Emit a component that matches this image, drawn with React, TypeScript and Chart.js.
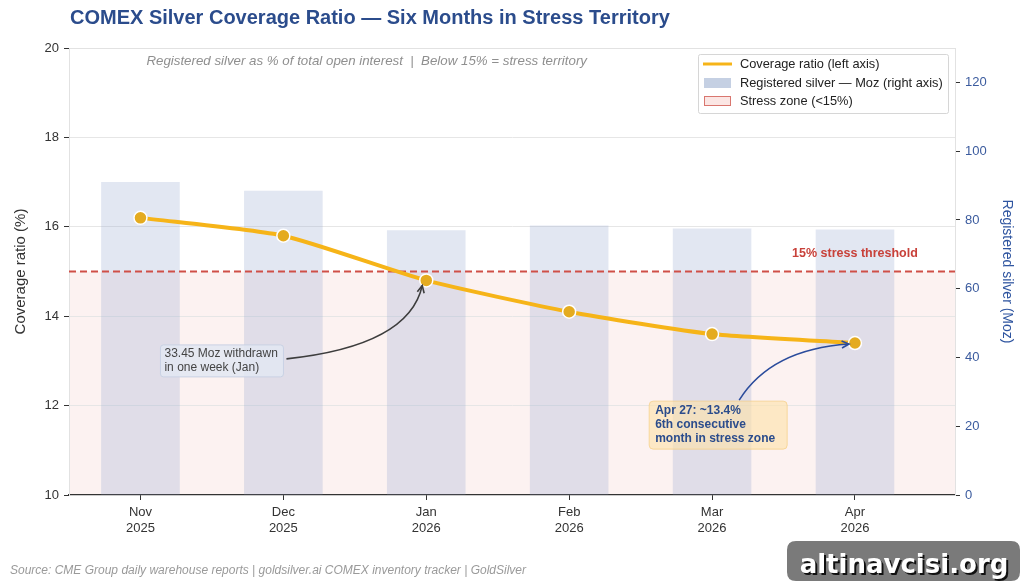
import { useEffect, useRef } from "react";
import { Chart, registerables } from "chart.js";

Chart.register(...registerables);

// Monthly observations
const months = ["Nov", "Dec", "Jan", "Feb", "Mar", "Apr"];
const years = ["2025", "2025", "2026", "2026", "2026", "2026"];
const coverageRatio = [16.2, 15.8, 14.8, 14.1, 13.6, 13.4];
const registeredMoz = [91.0, 88.5, 77.0, 78.4, 77.5, 77.2];

// Axis ticks
const leftTicks = [10, 12, 14, 16, 18, 20];
const rightTicks = [0, 20, 40, 60, 80, 100, 120];
const stressThreshold = 15;

// Text content
const titleText = "COMEX Silver Coverage Ratio — Six Months in Stress Territory";
const subtitleText =
  "Registered silver as % of total open interest  |  Below 15% = stress territory";
const sourceText =
  "Source: CME Group daily warehouse reports | goldsilver.ai COMEX inventory tracker | GoldSilver";
const withdrawalNote = ["33.45 Moz withdrawn", "in one week (Jan)"];
const stressNote = ["Apr 27: ~13.4%", "6th consecutive", "month in stress zone"];
const legendLabels = [
  "Coverage ratio (left axis)",
  "Registered silver — Moz (right axis)",
  "Stress zone (<15%)",
];

const FONT = "'Liberation Sans', Arial, sans-serif";
const BLUE = "#2b4c8c";
const GOLD = "#f6b418";
const RED = "#cf4f47";

function drawArrow(
  ctx: CanvasRenderingContext2D,
  x0: number,
  y0: number,
  cx: number,
  cy: number,
  x1: number,
  y1: number,
  color: string
) {
  ctx.save();
  ctx.strokeStyle = color;
  ctx.lineWidth = 1.6;
  ctx.beginPath();
  ctx.moveTo(x0, y0);
  ctx.quadraticCurveTo(cx, cy, x1, y1);
  ctx.stroke();
  const ang = Math.atan2(y1 - cy, x1 - cx);
  const L = 8;
  const a = 0.45;
  ctx.beginPath();
  ctx.moveTo(x1 - L * Math.cos(ang - a), y1 - L * Math.sin(ang - a));
  ctx.lineTo(x1, y1);
  ctx.lineTo(x1 - L * Math.cos(ang + a), y1 - L * Math.sin(ang + a));
  ctx.stroke();
  ctx.restore();
}

function roundRect(
  ctx: CanvasRenderingContext2D,
  x: number,
  y: number,
  w: number,
  h: number,
  r: number
) {
  ctx.beginPath();
  ctx.moveTo(x + r, y);
  ctx.lineTo(x + w - r, y);
  ctx.quadraticCurveTo(x + w, y, x + w, y + r);
  ctx.lineTo(x + w, y + h - r);
  ctx.quadraticCurveTo(x + w, y + h, x + w - r, y + h);
  ctx.lineTo(x + r, y + h);
  ctx.quadraticCurveTo(x, y + h, x, y + h - r);
  ctx.lineTo(x, y + r);
  ctx.quadraticCurveTo(x, y, x + r, y);
  ctx.closePath();
}

const decorations = {
  id: "decorations",
  beforeDraw(chart: any) {
    const { ctx, chartArea: a, scales } = chart;
    ctx.save();
    ctx.fillStyle = "#ffffff";
    ctx.fillRect(0, 0, chart.width, chart.height);
    // stress zone below the threshold
    const yTop = scales.y.getPixelForValue(stressThreshold);
    const yBot = scales.y.getPixelForValue(scales.y.min);
    ctx.fillStyle = "#fcf2f1";
    ctx.fillRect(a.left, yTop, a.right - a.left, yBot - yTop);
    ctx.restore();
  },
  afterDatasetDraw(chart: any, args: any) {
    if (args.meta.type !== "bar") return;
    const { ctx, chartArea: a, scales } = chart;
    const y = scales.y.getPixelForValue(stressThreshold);
    ctx.save();
    ctx.strokeStyle = RED;
    ctx.lineWidth = 2;
    ctx.setLineDash([7, 4]);
    ctx.beginPath();
    ctx.moveTo(a.left, y);
    ctx.lineTo(a.right, y);
    ctx.stroke();
    ctx.restore();
  },
  afterDraw(chart: any) {
    const { ctx, chartArea: a, scales } = chart;
    const xs = scales.x;
    const ys = scales.y;
    ctx.save();

    // top spine
    ctx.strokeStyle = "#e2e2e2";
    ctx.lineWidth = 1;
    ctx.beginPath();
    ctx.moveTo(a.left, a.top + 0.5);
    ctx.lineTo(a.right, a.top + 0.5);
    ctx.stroke();

    // threshold label
    ctx.fillStyle = "#c8413a";
    ctx.font = `bold 12.5px ${FONT}`;
    ctx.textAlign = "center";
    ctx.textBaseline = "middle";
    ctx.fillText(
      "15% stress threshold",
      xs.getPixelForValue(5),
      ys.getPixelForValue(stressThreshold) - 18
    );

    // note: January withdrawal
    {
      const bx = xs.getPixelForValue(0.14);
      const by = ys.getPixelForValue(13.0);
      const w = 123;
      const h = 32;
      ctx.fillStyle = "rgba(226,231,242,0.85)";
      ctx.strokeStyle = "#c9d2e4";
      ctx.lineWidth = 1;
      roundRect(ctx, bx, by - h / 2, w, h, 3);
      ctx.fill();
      ctx.stroke();
      ctx.fillStyle = "#444444";
      ctx.font = `12px ${FONT}`;
      ctx.textAlign = "left";
      ctx.textBaseline = "middle";
      ctx.fillText(withdrawalNote[0], bx + 4, by - 7);
      ctx.fillText(withdrawalNote[1], bx + 4, by + 7);
      const px = xs.getPixelForValue(2);
      const py = ys.getPixelForValue(coverageRatio[2]);
      const sx = bx + w + 3;
      const sy = by - 2;
      drawArrow(ctx, sx, sy, px - 17, sy - 13, px - 4, py + 5, "#3d3d3d");
    }

    // note: April reading
    {
      const bx = xs.getPixelForValue(3.56);
      const by = ys.getPixelForValue(12.1);
      const w = 138;
      const h = 48;
      ctx.fillStyle = "rgba(253,226,170,0.62)";
      ctx.strokeStyle = "rgba(245,205,130,0.7)";
      ctx.lineWidth = 1;
      roundRect(ctx, bx, by, w, h, 4);
      ctx.fill();
      ctx.stroke();
      ctx.fillStyle = BLUE;
      ctx.font = `bold 12px ${FONT}`;
      ctx.textAlign = "left";
      ctx.textBaseline = "middle";
      stressNote.forEach((t, i) => ctx.fillText(t, bx + 6, by + 10 + i * 14));
      const px = xs.getPixelForValue(5);
      const py = ys.getPixelForValue(coverageRatio[5]);
      drawArrow(ctx, bx + 90, by - 1, bx + 122, by - 52, px - 6, py + 1, "#2b4c9c");
    }

    // title
    ctx.fillStyle = BLUE;
    ctx.font = `bold 20px ${FONT}`;
    ctx.textAlign = "left";
    ctx.textBaseline = "middle";
    ctx.fillText(titleText, a.left + 1, 18);

    // subtitle
    ctx.fillStyle = "#8f8f8f";
    ctx.font = `italic 13.3px ${FONT}`;
    ctx.textAlign = "center";
    ctx.fillText(subtitleText, a.left + (a.right - a.left) * 0.336, 61);

    // legend
    {
      const lx = 698;
      const ly = 54;
      ctx.fillStyle = "rgba(255,255,255,0.9)";
      ctx.strokeStyle = "#d6d6d6";
      ctx.lineWidth = 1;
      roundRect(ctx, lx + 0.5, ly + 0.5, 250, 59, 2);
      ctx.fill();
      ctx.stroke();
      const rows = [64, 83, 101];
      ctx.strokeStyle = GOLD;
      ctx.lineWidth = 3;
      ctx.beginPath();
      ctx.moveTo(lx + 5, rows[0]);
      ctx.lineTo(lx + 34, rows[0]);
      ctx.stroke();
      ctx.fillStyle = "#c5d0e3";
      ctx.fillRect(lx + 6, rows[1] - 5, 27, 10);
      ctx.fillStyle = "#fbe6e4";
      ctx.strokeStyle = "#d9766f";
      ctx.lineWidth = 1;
      ctx.fillRect(lx + 6, rows[2] - 5, 27, 10);
      ctx.strokeRect(lx + 6.5, rows[2] - 4.5, 26, 9);
      ctx.fillStyle = "#222222";
      ctx.font = `12.8px ${FONT}`;
      ctx.textAlign = "left";
      ctx.textBaseline = "middle";
      legendLabels.forEach((t, i) => ctx.fillText(t, lx + 42, rows[i]));
    }

    // source line
    ctx.fillStyle = "#9a9a9a";
    ctx.font = `italic 12px ${FONT}`;
    ctx.textAlign = "left";
    ctx.textBaseline = "middle";
    ctx.fillText(sourceText, 10, 571);

    // site badge
    ctx.fillStyle = "#7a7a7a";
    roundRect(ctx, 787, 541, 233, 40, 9);
    ctx.fill();
    ctx.font = `bold 26px 'DejaVu Sans', sans-serif`;
    ctx.textAlign = "center";
    ctx.textBaseline = "alphabetic";
    ctx.fillStyle = "#111111";
    ctx.fillText("altinavcisi.org", 906, 575);
    ctx.fillStyle = "#ffffff";
    ctx.fillText("altinavcisi.org", 904, 573);

    ctx.restore();
  },
};

export default function App() {
  const canvasRef = useRef<HTMLCanvasElement | null>(null);

  useEffect(() => {
    const canvas = canvasRef.current;
    if (!canvas) return;
    const tickFont = { family: FONT, size: 13 };
    const chart = new Chart(canvas, {
      type: "bar",
      data: {
        datasets: [
          {
            type: "line",
            label: legendLabels[0],
            data: coverageRatio.map((v, i) => ({ x: i, y: v })),
            yAxisID: "y",
            xAxisID: "x",
            borderColor: GOLD,
            borderWidth: 4,
            pointRadius: 6.5,
            pointBackgroundColor: "#e4ab20",
            pointBorderColor: "#ffffff",
            pointBorderWidth: 1.5,
            tension: 0.2,
            order: 1,
          } as any,
          {
            type: "bar",
            label: legendLabels[1],
            data: registeredMoz.map((v, i) => ({ x: i, y: v })),
            yAxisID: "y1",
            xAxisID: "x",
            backgroundColor: "rgba(150,170,210,0.28)",
            barPercentage: 0.55,
            categoryPercentage: 1,
            order: 2,
          } as any,
        ],
      },
      options: {
        responsive: false,
        animation: false,
        layout: { padding: { top: 48, left: 0, right: 0, bottom: 0 } },
        plugins: {
          legend: { display: false },
          title: { display: false },
          tooltip: { enabled: false },
        },
        scales: {
          x: {
            type: "linear",
            min: -0.5,
            max: 5.7,
            offset: false,
            afterBuildTicks: (s: any) => {
              s.ticks = months.map((_, i) => ({ value: i }));
            },
            afterFit: (s: any) => {
              s.height = 93;
            },
            ticks: {
              callback: (v: any) => [months[v], years[v]],
              font: tickFont,
              color: "#333333",
              padding: 5,
              maxRotation: 0,
              autoSkip: false,
            },
            grid: {
              offset: false,
              drawOnChartArea: false,
              tickColor: "#333333",
              tickLength: 5,
            },
            border: { color: "#333333", width: 1.2 },
          },
          y: {
            position: "left",
            min: 10,
            max: 20,
            afterBuildTicks: (s: any) => {
              s.ticks = leftTicks.map((v) => ({ value: v }));
            },
            afterFit: (s: any) => {
              s.width = 69;
            },
            ticks: { font: tickFont, color: "#333333", padding: 5 },
            grid: {
              color: (c: any) =>
                c.tick && (c.tick.value === 10 || c.tick.value === 20)
                  ? "rgba(0,0,0,0)"
                  : "#e6e6e6",
              tickColor: "#333333",
              tickLength: 5,
            },
            border: { color: "#e2e2e2" },
            title: {
              display: true,
              text: "Coverage ratio (%)",
              color: "#333333",
              font: { family: FONT, size: 15 },
              padding: { top: 12, bottom: 0 },
            },
          },
          y1: {
            position: "right",
            min: 0,
            max: 130,
            afterBuildTicks: (s: any) => {
              s.ticks = rightTicks.map((v) => ({ value: v }));
            },
            afterFit: (s: any) => {
              s.width = 69;
            },
            ticks: { font: tickFont, color: "#3b5b9e", padding: 5 },
            grid: {
              drawOnChartArea: false,
              tickColor: "#333333",
              tickLength: 5,
            },
            border: { color: "#e2e2e2" },
            title: {
              display: true,
              text: "Registered silver (Moz)",
              color: "#2f55a0",
              font: { family: FONT, size: 14 },
              padding: { top: 9, bottom: 0 },
            },
          },
        },
      } as any,
      plugins: [decorations],
    });
    return () => chart.destroy();
  }, []);

  return (
    <div style={{ position: "absolute", left: 0, top: 0, width: 1024, height: 588 }}>
      <canvas ref={canvasRef} width={1024} height={588} />
    </div>
  );
}
